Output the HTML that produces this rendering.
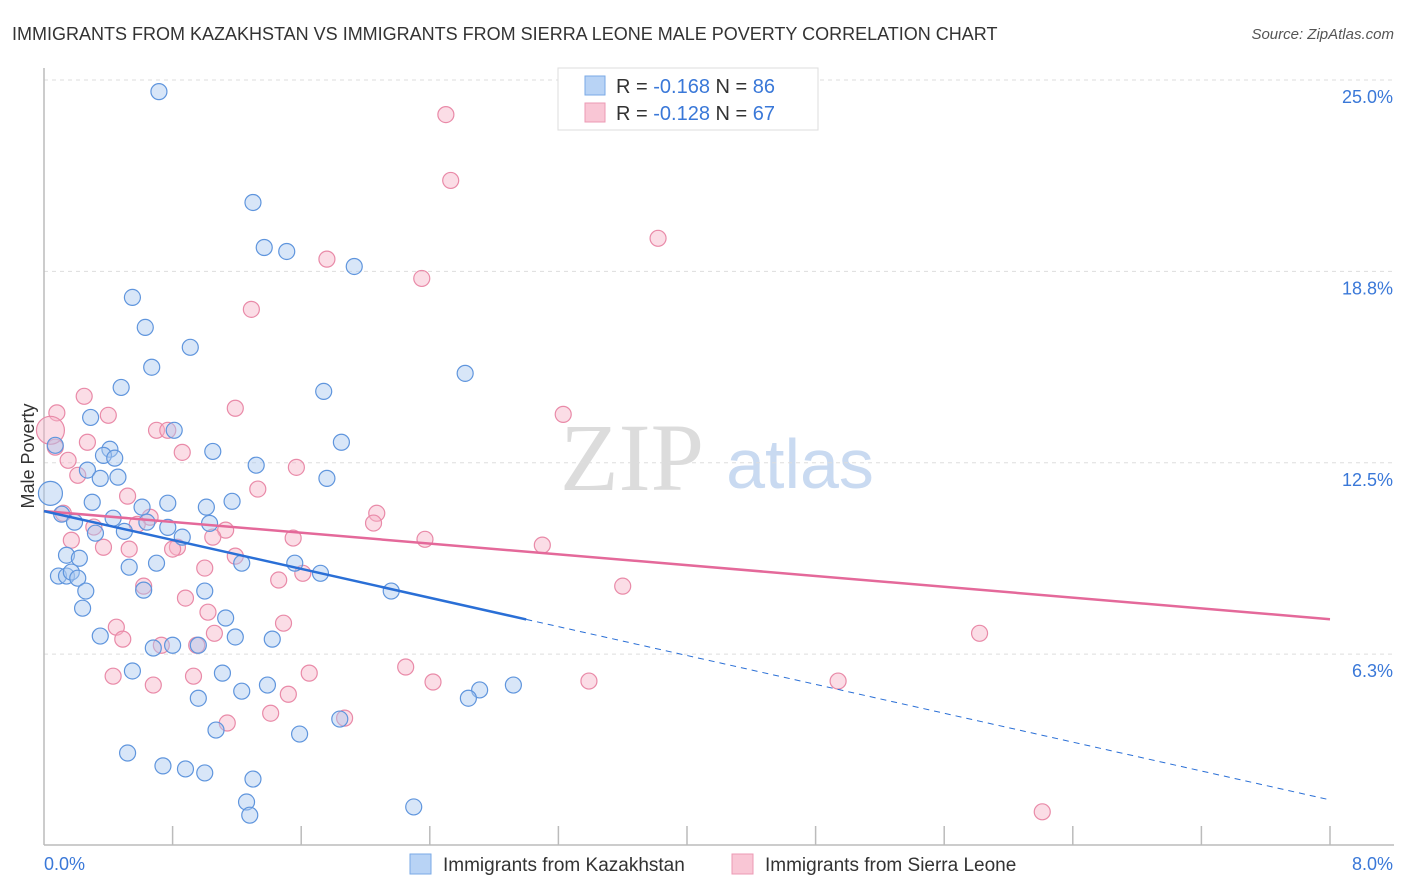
<!DOCTYPE html>
<html><head><meta charset="utf-8">
<style>
body{margin:0;background:#fff;font-family:"Liberation Sans",sans-serif;}
svg{display:block}
</style></head>
<body>
<svg id="chart" width="1406" height="892">
<text x="12" y="40" font-size="18" fill="#333">IMMIGRANTS FROM KAZAKHSTAN VS IMMIGRANTS FROM SIERRA LEONE MALE POVERTY CORRELATION CHART</text>
<text x="1394" y="39" font-size="15" fill="#555" font-style="italic" text-anchor="end">Source: ZipAtlas.com</text>
<g>
<text x="632" y="490" font-size="96" fill="#dcdcdc" font-family="Liberation Serif,serif" text-anchor="middle">ZIP</text>
<text x="800" y="488" font-size="70" fill="#c9daf1" text-anchor="middle">atlas</text>
</g>
<g id="grid"></g>
<g id="axes"></g>
<g id="pts"></g>
<g id="lines"></g>
<g>
<rect x="558" y="68" width="260" height="62" fill="#fff" stroke="#ddd"/>
<rect x="585" y="76" width="20" height="19" fill="#b8d3f5" stroke="#7aaae6"/>
<rect x="585" y="103" width="20" height="19" fill="#f9c6d5" stroke="#ec9ab4"/>
<text x="616" y="93" font-size="20" fill="#333">R = <tspan fill="#3a78d8">-0.168</tspan>   N = <tspan fill="#3a78d8">86</tspan></text>
<text x="616" y="120" font-size="20" fill="#333">R = <tspan fill="#3a78d8">-0.128</tspan>   N = <tspan fill="#3a78d8">67</tspan></text>
</g>
<text transform="translate(34,456) rotate(-90)" font-size="18" fill="#333" text-anchor="middle">Male Poverty</text>
<g>
<rect x="410" y="854" width="21" height="20" fill="#b8d3f5" stroke="#7aaae6"/>
<text x="443" y="871" font-size="19" fill="#333">Immigrants from Kazakhstan</text>
<rect x="732" y="854" width="21" height="20" fill="#f9c6d5" stroke="#ec9ab4"/>
<text x="765" y="871" font-size="19" fill="#333">Immigrants from Sierra Leone</text>
</g>
</svg>
<script>
const yTicks=[6.25,12.5,18.75,25];
const yTickLabels=["6.3%","12.5%","18.8%","25.0%"];
const xTickCount=10;
const blueX=[0.715,1.30,1.37,1.51,1.93,0.55,0.63,0.91,0.67,2.62,0.48,1.74,0.29,0.81,1.85,1.05,0.41,0.37,0.44,1.32,0.27,0.35,0.46,1.76,0.30,0.77,1.17,0.61,1.01,0.11,0.43,0.19,0.64,1.03,0.77,0.32,0.50,0.86,0.14,0.22,1.23,0.53,0.70,1.56,1.72,0.09,0.14,0.17,0.21,2.16,0.26,0.62,1.00,0.24,1.13,0.35,1.19,1.42,0.68,0.80,0.96,0.55,1.11,1.39,1.23,2.71,2.92,2.64,0.96,1.07,1.59,1.84,0.52,0.74,0.88,1.00,1.30,1.26,2.30,1.28,0.07];
const blueY=[24.62,21.0,19.53,19.40,18.91,17.90,16.92,16.27,15.62,15.42,14.96,14.83,13.98,13.56,13.17,12.87,12.94,12.74,12.65,12.42,12.26,11.99,12.03,11.99,11.21,11.18,11.24,11.05,11.05,10.82,10.69,10.56,10.56,10.52,10.39,10.20,10.26,10.07,9.48,9.38,9.22,9.09,9.22,9.22,8.89,8.80,8.80,8.93,8.73,8.31,8.31,8.34,8.31,7.75,7.43,6.84,6.81,6.74,6.45,6.54,6.54,5.70,5.63,5.24,5.04,5.08,5.24,4.81,4.81,3.77,3.64,4.13,3.02,2.60,2.50,2.37,2.17,1.42,1.26,0.99,13.07];
const blueBigX=[0.04];
const blueBigY=[11.50];
const pinkX=[2.50,2.53,3.82,1.76,2.35,1.29,0.25,1.19,0.40,3.23,0.08,0.70,0.77,0.27,0.07,0.86,0.15,1.57,0.21,1.33,0.52,2.07,0.12,0.66,2.05,0.31,1.13,0.58,1.05,1.55,2.37,0.17,3.10,0.37,0.53,0.83,0.80,1.19,1.00,1.61,1.46,0.62,3.60,0.88,1.02,1.49,0.45,0.49,1.06,5.82,0.73,0.95,2.25,1.65,0.43,0.93,3.39,2.42,0.68,4.94,1.52,1.41,1.14,1.87,6.21];
const pinkY=[23.87,21.72,19.83,19.15,18.52,17.51,14.67,14.28,14.05,14.08,14.13,13.56,13.56,13.17,13.01,12.84,12.58,12.35,12.09,11.64,11.41,10.85,10.85,10.72,10.53,10.40,10.30,10.49,10.07,10.04,10.00,9.97,9.81,9.74,9.68,9.74,9.68,9.45,9.06,8.89,8.67,8.47,8.47,8.08,7.62,7.26,7.13,6.74,6.93,6.93,6.54,6.54,5.83,5.63,5.53,5.53,5.37,5.34,5.24,5.37,4.94,4.32,4.00,4.16,1.10];
const pinkBigX=[0.04];
const pinkBigY=[13.56];
const blueTrend=[10.92,1.49]; // y at x=0, y at x=8
const blueSolidEnd=3.0;
const pinkTrend=[10.92,7.39];

const L=44,R=1330,B=845.5,T=80,XMAX=8,YMAX=25;
const sx=v=>L+v/XMAX*(R-L);
const sy=v=>B-v/YMAX*(B-T);
const NS="http://www.w3.org/2000/svg";
function mk(tag,attrs,parent){const e=document.createElementNS(NS,tag);for(const k in attrs)e.setAttribute(k,attrs[k]);document.getElementById(parent).appendChild(e);return e;}

yTicks.forEach((t,i)=>{
  const g=mk('line',{x1:L,x2:1394,y1:sy(t),y2:sy(t),stroke:'#ddd','stroke-dasharray':'4,4'},'grid');
  
  
  const tx=mk('text',{x:1393,y:sy(t)+23,'font-size':18,fill:'#3a78d8','text-anchor':'end'},'grid');
  tx.textContent=yTickLabels[i];
  
  
});
let a=mk('line',{x1:L,x2:L,y1:68,y2:845,stroke:'#bbb','stroke-width':1.5},'axes');


a=mk('line',{x1:L,x2:1394,y1:845,y2:845,stroke:'#bbb','stroke-width':1.5},'axes');


for(let i=1;i<=xTickCount;i++){
  const x=sx(i*XMAX/xTickCount);
  const t=mk('line',{x1:x,x2:x,y1:826,y2:845,stroke:'#bbb','stroke-width':1.5},'axes');
  
  
}
let xl=mk('text',{x:44,y:870,'font-size':18,fill:'#3a78d8'},'axes');xl.textContent='0.0%';


xl=mk('text',{x:1393,y:870,'font-size':18,fill:'#3a78d8','text-anchor':'end'},'axes');xl.textContent='8.0%';



function dots(xs,ys,r,fill,stroke,name){
  xs.forEach((v,i)=>{
    const c=mk('circle',{cx:sx(v),cy:sy(ys[i]),r:r,fill:fill,'fill-opacity':0.45,stroke:stroke,'stroke-width':1.2},'pts');
    
    
  });
}
dots(pinkX,pinkY,8,'#f7b3c8','#e98aa8','point-sierra-leone');
dots(pinkBigX,pinkBigY,14,'#f7b3c8','#e98aa8','point-sierra-leone');
dots(blueX,blueY,8,'#a9c8f0','#5f95dd','point-kazakhstan');
dots(blueBigX,blueBigY,12,'#a9c8f0','#5f95dd','point-kazakhstan');

const by=x=>blueTrend[0]+(blueTrend[1]-blueTrend[0])*x/XMAX;
const py=x=>pinkTrend[0]+(pinkTrend[1]-pinkTrend[0])*x/XMAX;
let ln=mk('line',{x1:sx(0),y1:sy(py(0)),x2:sx(XMAX),y2:sy(py(XMAX)),stroke:'#e4699a','stroke-width':2.5},'lines');


ln=mk('line',{x1:sx(0),y1:sy(by(0)),x2:sx(blueSolidEnd),y2:sy(by(blueSolidEnd)),stroke:'#2a6fd6','stroke-width':2.5},'lines');


ln=mk('line',{x1:sx(blueSolidEnd),y1:sy(by(blueSolidEnd)),x2:sx(XMAX),y2:sy(by(XMAX)),stroke:'#2a6fd6','stroke-width':1,'stroke-dasharray':'6,5'},'lines');


</script>
</body></html>
